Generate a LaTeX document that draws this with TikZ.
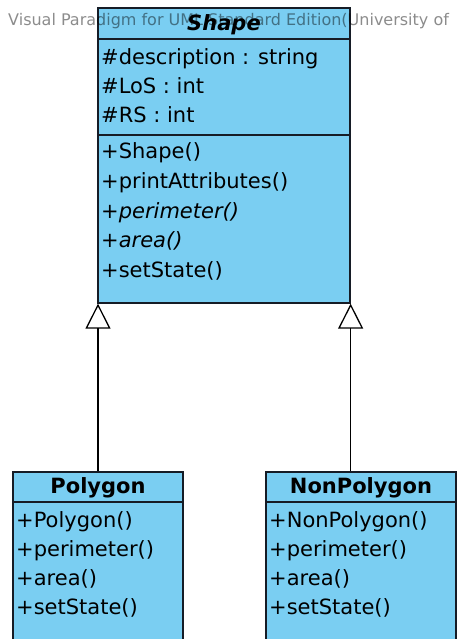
\documentclass[tikz,border=0pt]{standalone}
\usepackage{fontspec}
\setmainfont{DejaVu Sans}
\usetikzlibrary{arrows.meta}
\definecolor{classblue}{RGB}{122,206,242}
\definecolor{classline}{RGB}{22,28,38}
\tikzset{
  classbox/.style={draw=classline, fill=classblue, line width=1.3pt, inner sep=0pt},
  sepline/.style={draw=classline, line width=1.3pt},
  member/.style={anchor=base west, inner sep=0pt, font=\fontsize{21}{25}\selectfont},
  classname/.style={anchor=base, inner sep=0pt, font=\fontsize{21}{25}\selectfont\bfseries},
  inherit/.style={draw=black, line width=1.3pt, -{Triangle[open, length=25pt, width=25pt, line width=1.3pt]}}
}

\begin{document}
\begin{tikzpicture}[x=1pt,y=-1pt]
\useasboundingbox (0,0) rectangle (464,639);
% class boxes
\node [classbox, minimum width=252pt, minimum height=295pt] (shape) at (224,155.5) {};
\node [classbox, minimum width=170pt, minimum height=180pt] (poly) at (98,562) {};
\node [classbox, minimum width=190pt, minimum height=180pt] (nonpoly) at (361,562) {};
\draw [sepline] (98,39) -- (350,39);
\draw [sepline] (98,135) -- (350,135);
\draw [sepline] (13,502) -- (183,502);
\draw [sepline] (266,502) -- (456,502);
% watermark
\node [anchor=base west, inner sep=0pt, text opacity=0.45, font=\fontsize{16}{18}\selectfont] (mark) at (8,26) {Visual Paradigm for UML Standard Edition(University of};
% Shape
\node [classname, font=\fontsize{21}{25}\selectfont\bfseries\itshape] (shapeName) at (224,31) {Shape};
\node [member] (attrA) at (101,65) {\#description : string};
\node [member] (attrB) at (101,94) {\#LoS : int};
\node [member] (attrC) at (101,123) {\#RS : int};
\node [member] (opA) at (101,159) {+Shape()};
\node [member] (opB) at (101,188.5) {+printAttributes()};
\node [member] (opC) at (101,218) {\itshape +perimeter()};
\node [member] (opD) at (101,247.5) {\itshape +area()};
\node [member] (opE) at (101,277) {+setState()};
% Polygon
\node [classname] (polyName) at (98,493) {Polygon};
\node [member] (polyA) at (16,527) {+Polygon()};
\node [member] (polyB) at (16,556) {+perimeter()};
\node [member] (polyC) at (16,585) {+area()};
\node [member] (polyD) at (16,614) {+setState()};
% NonPolygon
\node [classname] (nonpolyName) at (361,493) {NonPolygon};
\node [member] (nonpolyA) at (269,527) {+NonPolygon()};
\node [member] (nonpolyB) at (269,556) {+perimeter()};
\node [member] (nonpolyC) at (269,585) {+area()};
\node [member] (nonpolyD) at (269,614) {+setState()};
% generalisation
\draw [inherit] (poly.north) -- (poly.north |- shape.south);
\draw [inherit] (shape.south east |- nonpoly.north) -- (shape.south east);
\end{tikzpicture}
\end{document}
